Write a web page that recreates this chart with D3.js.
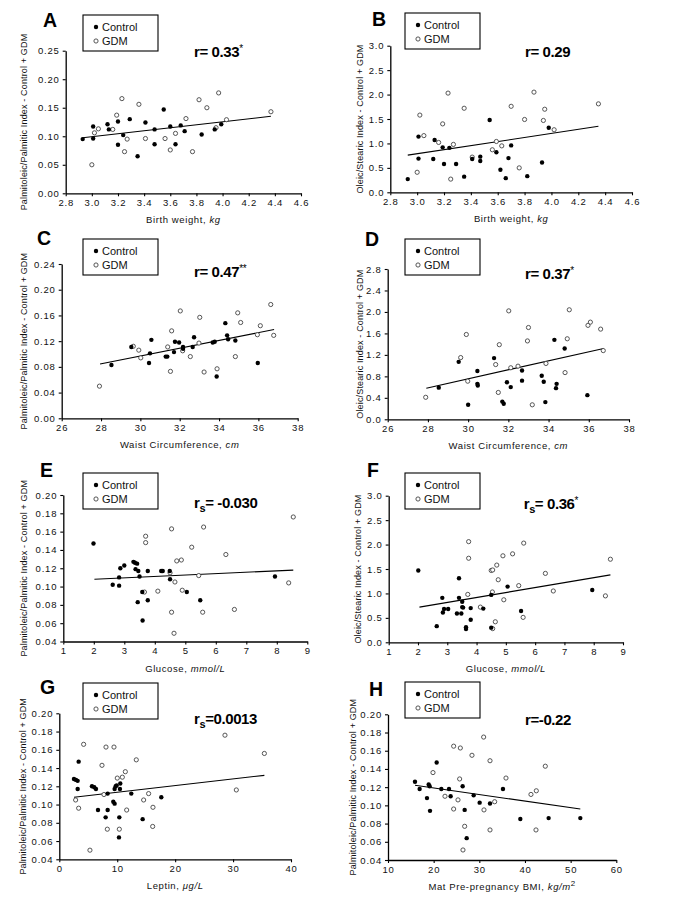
<!DOCTYPE html>
<html><head><meta charset="utf-8">
<script src="https://cdn.jsdelivr.net/npm/d3@7"></script>
<style>
html,body{margin:0;padding:0;background:#fff;}
svg{display:block;font-family:"Liberation Sans",Arial,sans-serif;}
</style></head>
<body>
<svg id="chart" width="675" height="900"></svg>
<script>
// ---------- DATA ----------
const ctrlA = [[2.93,0.095],[3.01,0.117],[3.01,0.096],[3.12,0.121],[3.13,0.112],[3.20,0.126],[3.20,0.085],[3.24,0.102],[3.29,0.130],[3.35,0.065],[3.41,0.124],[3.48,0.112],[3.48,0.086],[3.55,0.147],[3.60,0.117],[3.64,0.086],[3.68,0.119],[3.71,0.109],[3.84,0.103],[3.94,0.112],[3.99,0.121]];
const gdmA = [[3.00,0.050],[3.02,0.106],[3.05,0.113],[3.16,0.112],[3.19,0.137],[3.23,0.166],[3.25,0.073],[3.27,0.095],[3.36,0.156],[3.41,0.096],[3.56,0.096],[3.60,0.076],[3.64,0.105],[3.72,0.131],[3.77,0.073],[3.82,0.164],[3.88,0.150],[3.95,0.115],[3.97,0.176],[4.03,0.129],[4.37,0.143]];
const trendA = [[2.93,0.0975],[4.37,0.135]];

const ctrlB = [[2.93,0.27],[3.01,1.14],[3.01,0.69],[3.12,0.68],[3.13,1.07],[3.19,0.92],[3.20,0.58],[3.24,0.91],[3.29,0.58],[3.35,0.32],[3.41,0.68],[3.47,0.73],[3.47,0.64],[3.54,1.48],[3.59,0.82],[3.62,0.46],[3.66,0.29],[3.68,0.70],[3.70,0.96],[3.82,0.33],[3.93,0.61],[3.98,1.32]];
const gdmB = [[3.00,0.41],[3.02,1.58],[3.05,1.16],[3.16,1.02],[3.19,1.40],[3.23,2.03],[3.25,0.27],[3.27,0.98],[3.35,1.72],[3.41,0.72],[3.56,0.87],[3.59,1.04],[3.63,0.95],[3.70,1.76],[3.76,0.50],[3.80,1.49],[3.87,2.05],[3.94,1.47],[3.95,1.70],[4.02,1.28],[4.35,1.81]];
const trendB = [[2.93,0.76],[4.35,1.35]];

const ctrlC = [[28.53,0.083],[29.54,0.111],[30.44,0.086],[30.49,0.101],[30.56,0.122],[31.29,0.096],[31.37,0.096],[31.71,0.103],[31.76,0.119],[31.97,0.118],[32.17,0.111],[32.17,0.108],[32.66,0.111],[32.73,0.126],[33.68,0.118],[33.78,0.119],[33.88,0.065],[34.32,0.148],[34.41,0.129],[34.46,0.123],[34.83,0.121],[35.97,0.086]];
const gdmC = [[27.92,0.050],[29.64,0.112],[29.92,0.106],[30.02,0.094],[31.39,0.111],[31.53,0.073],[31.59,0.136],[32.03,0.167],[32.15,0.105],[32.54,0.096],[32.98,0.117],[33.02,0.157],[33.24,0.072],[33.90,0.077],[34.83,0.096],[34.95,0.164],[35.10,0.149],[35.95,0.130],[36.10,0.144],[36.63,0.177],[36.78,0.129]];
const trendC = [[27.95,0.0845],[36.80,0.138]];

const ctrlD = [[28.54,0.59],[29.53,1.07],[30.00,0.27],[30.46,0.90],[30.46,0.66],[30.48,0.63],[31.29,1.14],[31.70,0.33],[31.77,0.29],[31.93,0.69],[32.12,0.60],[32.68,0.91],[32.68,0.72],[33.66,0.81],[33.76,0.70],[33.84,0.32],[34.29,1.48],[34.37,0.58],[34.40,0.66],[34.80,1.32],[35.93,0.45]];
const gdmD = [[27.89,0.41],[29.63,1.15],[29.91,1.58],[29.98,0.71],[31.37,1.02],[31.50,0.50],[31.55,1.39],[32.02,2.02],[32.12,0.96],[32.48,0.99],[32.95,1.46],[33.00,1.71],[33.19,0.27],[33.87,1.04],[34.82,0.87],[34.93,1.50],[35.03,2.04],[35.96,1.75],[36.08,1.81],[36.59,1.68],[36.72,1.28]];
const trendD = [[27.92,0.58],[36.74,1.32]];

const ctrlE = [[1.99,0.147],[2.62,0.102],[2.83,0.110],[2.83,0.101],[2.87,0.120],[3.00,0.123],[3.30,0.127],[3.35,0.126],[3.37,0.119],[3.42,0.125],[3.44,0.083],[3.46,0.117],[3.50,0.111],[3.59,0.094],[3.60,0.063],[3.77,0.117],[3.77,0.085],[4.21,0.117],[4.26,0.117],[4.49,0.117],[4.50,0.108],[5.05,0.094],[5.49,0.085],[7.94,0.111]];
const gdmE = [[3.66,0.094],[3.70,0.155],[3.70,0.148],[4.10,0.095],[4.50,0.115],[4.55,0.163],[4.55,0.072],[4.63,0.049],[4.66,0.105],[4.72,0.128],[4.87,0.129],[4.90,0.096],[5.21,0.143],[5.44,0.112],[5.57,0.072],[5.60,0.165],[6.33,0.135],[6.61,0.075],[8.39,0.104],[8.54,0.176]];
const trendE = [[2.02,0.108],[8.54,0.118]];

const ctrlF = [[2.01,1.47],[2.64,0.33],[2.83,0.91],[2.85,0.61],[2.89,0.68],[3.03,0.68],[3.33,0.59],[3.40,1.31],[3.40,0.91],[3.48,0.59],[3.51,0.83],[3.51,0.72],[3.54,0.71],[3.64,0.31],[3.64,0.27],[3.80,0.70],[3.80,0.46],[4.23,0.69],[4.50,0.97],[4.50,0.30],[5.06,1.14],[5.52,0.64],[7.95,1.07]];
const gdmF = [[3.70,0.98],[3.73,2.06],[3.73,1.72],[4.13,0.72],[4.50,1.47],[4.54,1.03],[4.55,1.48],[4.55,0.28],[4.64,0.42],[4.69,1.58],[4.74,1.28],[4.90,1.77],[4.93,0.87],[5.23,1.81],[5.44,1.16],[5.59,0.51],[5.61,2.03],[6.35,1.41],[6.62,1.05],[8.40,0.95],[8.57,1.70]];
const trendF = [[2.05,0.72],[8.57,1.38]];

const ctrlG = [[2.53,0.128],[2.88,0.127],[3.17,0.126],[3.17,0.117],[3.34,0.147],[5.64,0.120],[6.04,0.119],[6.33,0.117],[6.68,0.094],[8.00,0.086],[8.35,0.094],[8.35,0.112],[9.32,0.103],[9.55,0.101],[9.55,0.117],[9.73,0.120],[9.90,0.121],[10.30,0.064],[10.36,0.086],[10.47,0.117],[10.53,0.123],[12.43,0.112],[14.39,0.084],[17.61,0.108]];
const gdmG = [[2.82,0.105],[3.34,0.096],[4.20,0.166],[5.29,0.050],[7.37,0.143],[7.71,0.111],[8.06,0.163],[8.29,0.073],[9.44,0.163],[10.01,0.129],[10.36,0.073],[10.88,0.130],[11.40,0.136],[11.63,0.094],[13.29,0.149],[14.56,0.105],[15.42,0.112],[16.17,0.097],[16.12,0.076],[28.60,0.176],[30.56,0.116],[35.40,0.156]];
const trendG = [[2.53,0.108],[35.4,0.132]];

const ctrlH = [[15.91,0.126],[16.93,0.118],[18.54,0.108],[18.91,0.123],[19.12,0.121],[19.20,0.094],[20.66,0.147],[21.68,0.118],[23.36,0.118],[23.72,0.110],[26.35,0.121],[26.79,0.095],[27.23,0.064],[28.76,0.111],[30.07,0.103],[32.34,0.102],[35.18,0.118],[38.98,0.085],[45.18,0.086],[52.12,0.086]];
const gdmH = [[19.85,0.136],[22.48,0.110],[24.38,0.165],[24.38,0.096],[25.33,0.106],[25.69,0.129],[25.84,0.163],[26.42,0.051],[26.79,0.077],[28.39,0.155],[30.95,0.175],[31.02,0.095],[32.34,0.149],[32.34,0.073],[33.36,0.104],[35.84,0.130],[41.31,0.112],[42.48,0.116],[42.41,0.073],[44.45,0.143]];
const trendH = [[15.91,0.122],[52.12,0.096]];

// tick values
const xTicksBW = [2.8,3.0,3.2,3.4,3.6,3.8,4.0,4.2,4.4,4.6];
const xTicksWC = [26,28,30,32,34,36,38];
const xTicksGlu = [1,2,3,4,5,6,7,8,9];
const xTicksLep = [0,10,20,30,40];
const xTicksBMI = [10,20,30,40,50,60];
const yTicksA = [0,0.05,0.10,0.15,0.20,0.25];
const yTicksOS30 = [0,0.5,1.0,1.5,2.0,2.5,3.0];
const yTicksC = [0,0.04,0.08,0.12,0.16,0.20,0.24];
const yTicksD = [0,0.4,0.8,1.2,1.6,2.0,2.4,2.8];
const yTicksPP20 = [0.04,0.06,0.08,0.10,0.12,0.14,0.16,0.18,0.20];

// labels
const panelLetters = ["A","B","C","D","E","F","G","H"];
const legendLabels = ["Control","GDM"];
const yTitlePP = "Palmitoleic/Palmitic Index - Control + GDM";
const yTitleOS = "Oleic/Stearic Index - Control + GDM";
const xTitles = [["Birth weight, ","kg",""],["Birth weight, ","kg",""],["Waist Circumference, ","cm",""],["Waist Circumference, ","cm",""],["Glucose, ","mmol/L",""],["Glucose, ","mmol/L",""],["Leptin, ","\u03BCg/L",""],["Mat Pre-pregnancy BMI, ","kg/m","2"]];
// stat: [r, subscript, value, star]
const stats = [["r","","= 0.33","*"],["r","","= 0.29",""],["r","","= 0.47","**"],["r","","= 0.37","*"],["r","s","= -0.030",""],["r","s","= 0.36","*"],["r","s","=0.0013",""],["r","","=-0.22",""]];

// ---------- PANEL SETUP (layout) ----------
const panels = [
 {ctrl:ctrlA,gdm:gdmA,trend:trendA,xT:xTicksBW,yT:yTicksA,xd:[2.8,4.6],yd:[0,0.25],xf:".1f",yf:".2f",yTitle:yTitlePP,
  L:{x0:65.7,x1:301,yt:50.7,yb:193.3,ytx:24,leg:[83,15],let:[43,27],st:[194,57.3]}},
 {ctrl:ctrlB,gdm:gdmB,trend:trendB,xT:xTicksBW,yT:yTicksOS30,xd:[2.8,4.6],yd:[0,3],xf:".1f",yf:".1f",yTitle:yTitleOS,
  L:{x0:390.3,x1:632,yt:45.7,yb:192.3,ytx:360,leg:[405,13],let:[372,26],st:[525,57.3]}},
 {ctrl:ctrlC,gdm:gdmC,trend:trendC,xT:xTicksWC,yT:yTicksC,xd:[26,38],yd:[0,0.24],xf:"d",yf:".2f",yTitle:yTitlePP,
  L:{x0:61.7,x1:297.7,yt:264,yb:418.3,ytx:24,leg:[83,239],let:[37,245],st:[194,277.3]}},
 {ctrl:ctrlD,gdm:gdmD,trend:trendD,xT:xTicksWC,yT:yTicksD,xd:[26,38],yd:[0,2.8],xf:"d",yf:".1f",yTitle:yTitleOS,
  L:{x0:387.7,x1:629,yt:269,yb:419.3,ytx:360,leg:[405,239],let:[365,246],st:[525,279.3]}},
 {ctrl:ctrlE,gdm:gdmE,trend:trendE,xT:xTicksGlu,yT:yTicksPP20,xd:[1,9],yd:[0.04,0.20],xf:"d",yf:".2f",yTitle:yTitlePP,
  L:{x0:63.3,x1:307.3,yt:495,yb:641.5,ytx:24,leg:[83,473],let:[40,477],st:[194,508.3]}},
 {ctrl:ctrlF,gdm:gdmF,trend:trendF,xT:xTicksGlu,yT:yTicksOS30,xd:[1,9],yd:[0,3],xf:"d",yf:".1f",yTitle:yTitleOS,
  L:{x0:388.7,x1:623,yt:495.7,yb:642.3,ytx:358,leg:[405,473],let:[367,477],st:[523.7,509]}},
 {ctrl:ctrlG,gdm:gdmG,trend:trendG,xT:xTicksLep,yT:yTicksPP20,xd:[0,40],yd:[0.04,0.20],xf:"d",yf:".2f",yTitle:yTitlePP,
  L:{x0:59.3,x1:291,yt:713.3,yb:859.3,ytx:23,leg:[83,683],let:[40,694],st:[194,724.3]}},
 {ctrl:ctrlH,gdm:gdmH,trend:trendH,xT:xTicksBMI,yT:yTicksPP20,xd:[10,60],yd:[0.04,0.20],xf:"d",yf:".2f",yTitle:yTitlePP,
  L:{x0:388,x1:616.3,yt:714.3,yb:860,ytx:353,leg:[405,682],let:[369,696],st:[525,725]}}
];

const svg = d3.select("#chart");
svg.append("rect").attr("width",675).attr("height",900).attr("fill","#fff");

panels.forEach((p,i)=>{
  const L = p.L;
  const x = d3.scaleLinear().domain(p.xd).range([L.x0,L.x1]);
  const y = d3.scaleLinear().domain(p.yd).range([L.yb,L.yt]);
  const g = svg.append("g");

  // axes
  const xa = g.append("g").attr("transform",`translate(0,${L.yb})`)
    .call(d3.axisBottom(x).tickValues(p.xT).tickSize(3).tickSizeOuter(0).tickPadding(3).tickFormat(d3.format(p.xf)));
  const ya = g.append("g").attr("transform",`translate(${L.x0},0)`)
    .call(d3.axisLeft(y).tickValues(p.yT).tickSize(3).tickSizeOuter(0).tickPadding(3).tickFormat(d3.format(p.yf)));
  [xa,ya].forEach(a=>{
    a.select(".domain").attr("stroke","#000").attr("stroke-width",1.3);
    a.selectAll(".tick line").attr("stroke","#000").attr("stroke-width",1.1);
    a.selectAll(".tick text").attr("fill","#111").style("font-size","9.5px").style("letter-spacing","0.8px")
      .style("font-family","'Liberation Sans',Arial,sans-serif");
  });

  // trend line
  g.append("path").datum(p.trend)
    .attr("d",d3.line().x(d=>x(d[0])).y(d=>y(d[1])))
    .attr("stroke","#000").attr("stroke-width",1.1).attr("fill","none");

  // points
  g.selectAll(".gdm").data(p.gdm).join("circle")
    .attr("cx",d=>x(d[0])).attr("cy",d=>y(d[1])).attr("r",2.1)
    .attr("fill","#fff").attr("stroke","#444").attr("stroke-width",0.9);
  g.selectAll(".ctrl").data(p.ctrl).join("circle")
    .attr("cx",d=>x(d[0])).attr("cy",d=>y(d[1])).attr("r",2.2)
    .attr("fill","#000");

  // y title
  g.append("text")
    .attr("transform",`translate(${L.ytx},${(L.yt+L.yb)/2}) rotate(-90)`)
    .attr("text-anchor","middle").attr("dominant-baseline","central")
    .style("font-size","9px").style("letter-spacing","0.15px").attr("fill","#111")
    .text(p.yTitle);

  // x title
  const xt = g.append("text").attr("x",(L.x0+L.x1)/2).attr("y",L.yb+30)
    .attr("text-anchor","middle").style("font-size","9.5px").style("letter-spacing","0.6px").attr("fill","#111");
  xt.append("tspan").text(xTitles[i][0]);
  xt.append("tspan").style("font-style","italic").text(xTitles[i][1]);
  if (xTitles[i][2]) xt.append("tspan").attr("dy",-4).style("font-size","8px").text(xTitles[i][2]);

  // panel letter
  g.append("text").attr("x",L.let[0]).attr("y",L.let[1])
    .style("font-size","19.5px").style("font-weight","bold").attr("fill","#000")
    .text(panelLetters[i]);

  // legend
  const lg = g.append("g").attr("transform",`translate(${L.leg[0]},${L.leg[1]})`);
  lg.append("rect").attr("width",75).attr("height",36).attr("fill","#fff")
    .attr("stroke","#000").attr("stroke-width",1.1);
  lg.append("circle").attr("cx",13).attr("cy",12).attr("r",2.2).attr("fill","#000");
  lg.append("circle").attr("cx",13).attr("cy",26).attr("r",2.1).attr("fill","#fff").attr("stroke","#444").attr("stroke-width",0.9);
  legendLabels.forEach((t,k)=>{
    lg.append("text").attr("x",19).attr("y",12+k*14).attr("dominant-baseline","central")
      .style("font-size","11px").attr("fill","#111").text(t);
  });

  // stat
  const s = stats[i];
  const st = g.append("text").attr("x",L.st[0]).attr("y",L.st[1])
    .style("font-size","15px").style("font-weight","bold").style("letter-spacing","-0.4px").attr("fill","#000");
  st.append("tspan").text(s[0]);
  if (s[1]) {
    st.append("tspan").attr("dy",4).style("font-size","11px").text(s[1]);
    st.append("tspan").attr("dy",-4).text(s[2]);
  } else {
    st.append("tspan").text(s[2]);
  }
  if (s[3]) st.append("tspan").attr("dy",-5).style("font-size","10px").style("font-weight","normal").text(s[3]);
});
</script>
</body></html>
